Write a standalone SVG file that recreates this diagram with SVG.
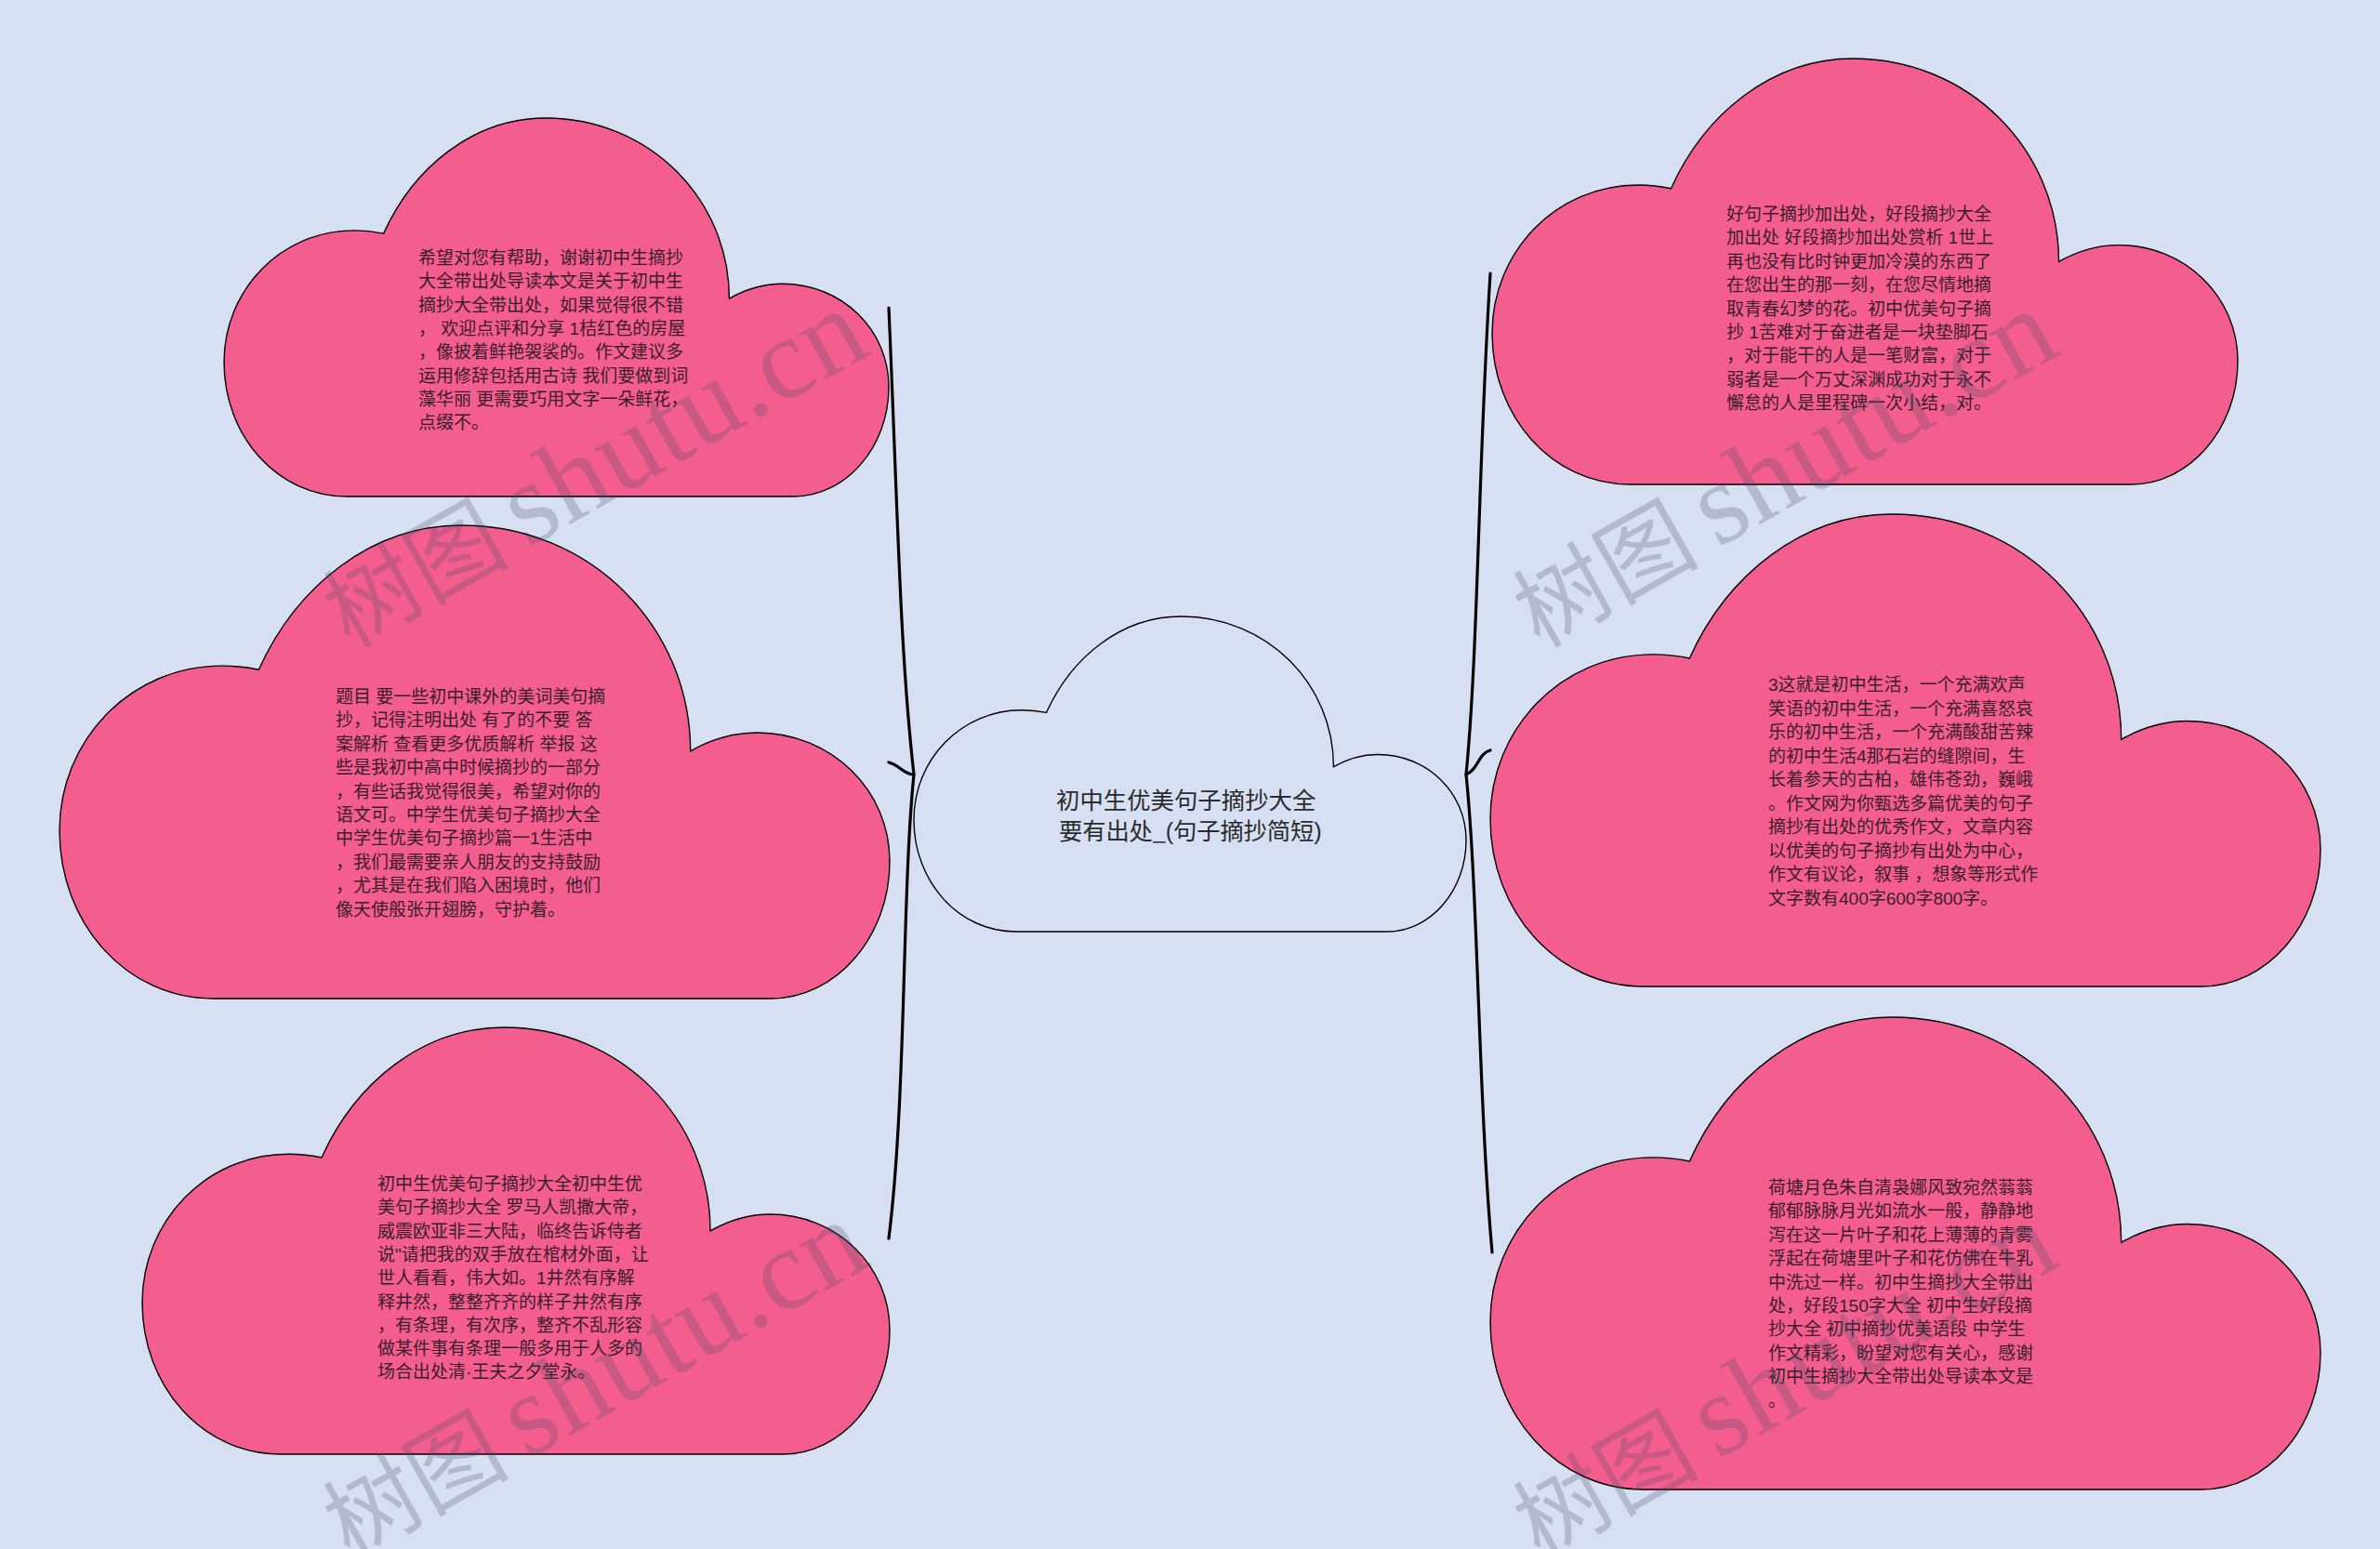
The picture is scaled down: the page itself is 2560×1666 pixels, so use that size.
<svg xmlns="http://www.w3.org/2000/svg" width="2560" height="1666" viewBox="0 0 2560 1666">
<style>
.shape{stroke:#000;stroke-width:1.4;vector-effect:non-scaling-stroke}
.leaf{fill:#f35e8f}
.root{fill:#d7dff2}
.t{font-family:"Liberation Sans","Noto Sans CJK SC",sans-serif;font-size:19px;fill:#3a1c2c}
.title{font-family:"Liberation Sans","Noto Sans CJK SC",sans-serif;font-size:25.4px;fill:#2b2b2b}
.us{font-family:"Noto Sans CJK SC",sans-serif}
.tight{letter-spacing:-.2px}
.edge{fill:none;stroke:#000;stroke-width:3.2;stroke-linecap:round}
.wm{fill:#474c68;fill-opacity:.25}
.wmc{font-family:"Noto Sans CJK SC",sans-serif;font-size:100px}
.wml{font-family:"Liberation Serif",serif;font-size:125px;letter-spacing:1px}
</style>
<defs>
<path id="cloud" class="shape" d="M185 1000C80 1000 0 840 0 645C0 455 85 297 196 297C212 297 226 300 240 305C285 130 375 0 484 0C640 0 760 215 760 477C785 452 812 438 840 438C930 438 1000 560 1000 710C1000 870 935 1000 857 1000Z"/>
</defs>
<rect width="2560" height="1666" fill="#d7dff2"/>
<g id="connectors">
<path class="edge" d="M956 331C966 560 968 700 983 833C970 960 975 1180 956 1332"/>
<path class="edge" d="M956 820C968 823 972 833 983 833"/>
<path class="edge" d="M1603 294C1590 500 1590 700 1577 833C1590 960 1590 1180 1605 1347"/>
<path class="edge" d="M1603 807C1590 810 1590 828 1577 833"/>
</g>
<g id="root">
<use href="#cloud" class="root" transform="translate(983 663) scale(.594 .339)"/>
<text class="title"><tspan x="1136" y="870">初中生优美句子摘抄大全</tspan><tspan class="tight" x="1139" y="903">要有出处<tspan class="us">_</tspan>(句子摘抄简短)</tspan></text>
</g>
<g id="node-left-1">
<use href="#cloud" class="leaf" transform="translate(241 127) scale(.715 .407)"/>
<text class="t"><tspan x="450" y="284">希望对您有帮助，谢谢初中生摘抄</tspan><tspan x="450" dy="25.3">大全带出处导读本文是关于初中生</tspan><tspan x="450" dy="25.3">摘抄大全带出处，如果觉得很不错</tspan><tspan x="450" dy="25.3">， 欢迎点评和分享 1桔红色的房屋</tspan><tspan x="450" dy="25.3">，像披着鲜艳袈裟的。作文建议多</tspan><tspan x="450" dy="25.3">运用修辞包括用古诗 我们要做到词</tspan><tspan x="450" dy="25.3">藻华丽 更需要巧用文字一朵鲜花，</tspan><tspan x="450" dy="25.3">点缀不。</tspan></text>
</g>
<g id="node-left-2">
<use href="#cloud" class="leaf" transform="translate(64 565) scale(.893 .509)"/>
<text class="t"><tspan x="361" y="756">题目 要一些初中课外的美词美句摘</tspan><tspan x="361" dy="25.4">抄，记得注明出处 有了的不要 答</tspan><tspan x="361" dy="25.4">案解析 查看更多优质解析 举报 这</tspan><tspan x="361" dy="25.4">些是我初中高中时候摘抄的一部分</tspan><tspan x="361" dy="25.4">，有些话我觉得很美，希望对你的</tspan><tspan x="361" dy="25.4">语文可。中学生优美句子摘抄大全</tspan><tspan x="361" dy="25.4">中学生优美句子摘抄篇一1生活中</tspan><tspan x="361" dy="25.4">，我们最需要亲人朋友的支持鼓励</tspan><tspan x="361" dy="25.4">，尤其是在我们陷入困境时，他们</tspan><tspan x="361" dy="25.4">像天使般张开翅膀，守护着。</tspan></text>
</g>
<g id="node-left-3">
<use href="#cloud" class="leaf" transform="translate(153 1105) scale(.804 .459)"/>
<text class="t"><tspan x="406" y="1280">初中生优美句子摘抄大全初中生优</tspan><tspan x="406" dy="25.3">美句子摘抄大全 罗马人凯撒大帝，</tspan><tspan x="406" dy="25.3">威震欧亚非三大陆，临终告诉侍者</tspan><tspan x="406" dy="25.3">说"请把我的双手放在棺材外面，让</tspan><tspan x="406" dy="25.3">世人看看，伟大如。1井然有序解</tspan><tspan x="406" dy="25.3">释井然，整整齐齐的样子井然有序</tspan><tspan x="406" dy="25.3">，有条理，有次序，整齐不乱形容</tspan><tspan x="406" dy="25.3">做某件事有条理一般多用于人多的</tspan><tspan x="406" dy="25.3">场合出处清·王夫之夕堂永。</tspan></text>
</g>
<g id="node-right-1">
<use href="#cloud" class="leaf" transform="translate(1605 63) scale(.802 .458)"/>
<text class="t"><tspan x="1857" y="237">好句子摘抄加出处，好段摘抄大全</tspan><tspan x="1857" dy="25.4">加出处 好段摘抄加出处赏析 1世上</tspan><tspan x="1857" dy="25.4">再也没有比时钟更加冷漠的东西了</tspan><tspan x="1857" dy="25.4">在您出生的那一刻，在您尽情地摘</tspan><tspan x="1857" dy="25.4">取青春幻梦的花。初中优美句子摘</tspan><tspan x="1857" dy="25.4">抄 1苦难对于奋进者是一块垫脚石</tspan><tspan x="1857" dy="25.4">，对于能干的人是一笔财富，对于</tspan><tspan x="1857" dy="25.4">弱者是一个万丈深渊成功对于永不</tspan><tspan x="1857" dy="25.4">懈怠的人是里程碑一次小结，对。</tspan></text>
</g>
<g id="node-right-2">
<use href="#cloud" class="leaf" transform="translate(1603 553) scale(.893 .508)"/>
<text class="t"><tspan x="1902" y="743">3这就是初中生活，一个充满欢声</tspan><tspan x="1902" dy="25.5">笑语的初中生活，一个充满喜怒哀</tspan><tspan x="1902" dy="25.5">乐的初中生活，一个充满酸甜苦辣</tspan><tspan x="1902" dy="25.5">的初中生活4那石岩的缝隙间，生</tspan><tspan x="1902" dy="25.5">长着参天的古柏，雄伟苍劲，巍峨</tspan><tspan x="1902" dy="25.5">。作文网为你甄选多篇优美的句子</tspan><tspan x="1902" dy="25.5">摘抄有出处的优秀作文，文章内容</tspan><tspan x="1902" dy="25.5">以优美的句子摘抄有出处为中心，</tspan><tspan x="1902" dy="25.5">作文有议论，叙事 ，想象等形式作</tspan><tspan x="1902" dy="25.5">文字数有400字600字800字。</tspan></text>
</g>
<g id="node-right-3">
<use href="#cloud" class="leaf" transform="translate(1603 1094) scale(.893 .508)"/>
<text class="t"><tspan x="1902" y="1284">荷塘月色朱自清袅娜风致宛然蓊蓊</tspan><tspan x="1902" dy="25.4">郁郁脉脉月光如流水一般，静静地</tspan><tspan x="1902" dy="25.4">泻在这一片叶子和花上薄薄的青雾</tspan><tspan x="1902" dy="25.4">浮起在荷塘里叶子和花仿佛在牛乳</tspan><tspan x="1902" dy="25.4">中洗过一样。初中生摘抄大全带出</tspan><tspan x="1902" dy="25.4">处，好段150字大全 初中生好段摘</tspan><tspan x="1902" dy="25.4">抄大全 初中摘抄优美语段 中学生</tspan><tspan x="1902" dy="25.4">作文精彩，盼望对您有关心，感谢</tspan><tspan x="1902" dy="25.4">初中生摘抄大全带出处导读本文是</tspan><tspan x="1902" dy="25.4">。</tspan></text>
</g>
<g id="watermarks">
<text class="wm" transform="translate(376 698) rotate(-29.5)"><tspan class="wmc" x="0">树图</tspan><tspan class="wml" x="220">shutu.cn</tspan></text>
<text class="wm" transform="translate(1656 698) rotate(-29.5)"><tspan class="wmc" x="0">树图</tspan><tspan class="wml" x="220">shutu.cn</tspan></text>
<text class="wm" transform="translate(376 1678) rotate(-29.5)"><tspan class="wmc" x="0">树图</tspan><tspan class="wml" x="220">shutu.cn</tspan></text>
<text class="wm" transform="translate(1656 1678) rotate(-29.5)"><tspan class="wmc" x="0">树图</tspan><tspan class="wml" x="220">shutu.cn</tspan></text>
</g>
</svg>
